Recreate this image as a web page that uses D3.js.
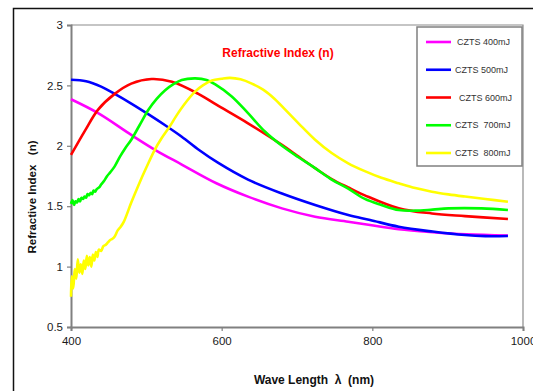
<!DOCTYPE html>
<html>
<head>
<meta charset="utf-8">
<script src="https://cdn.jsdelivr.net/npm/d3@7"></script>
<style>
  body { margin: 0; background: #fff; }
  text { font-family: "Liberation Sans", Arial, sans-serif; }
</style>
</head>
<body>
<div id="chart"></div>
<script>

// wavelength (nm), refractive index n
var czts400 = [[400,2.385],[436,2.27],[480,2.09],[512,1.965],[547,1.845],[593,1.69],[635,1.579],[680,1.482],
    [724,1.413],[768,1.372],[797,1.344],[835,1.309],[880,1.285],[925,1.268],[980,1.258]];

var czts500 = [[400,2.547],[420,2.535],[440,2.49],[458,2.43],[480,2.35],[503,2.26],[525,2.17],[547,2.075],
    [570,1.965],[595,1.86],[635,1.72],[680,1.605],[724,1.51],[768,1.427],[797,1.386],[835,1.33],[880,1.29],
    [923,1.261],[950,1.252],[980,1.253]];

var czts600 = [[400,1.924],[419,2.13],[436,2.30],[458,2.43],[480,2.515],[507,2.553],[534,2.53],[569,2.43],
    [593,2.34],[635,2.186],[680,2.007],[702,1.91],[724,1.815],[746,1.725],[768,1.655],[790,1.59],[835,1.482],
    [879,1.44],[923,1.418],[980,1.394]];

var czts700 = [[400,1.52],[402,1.55],[404,1.51],[406,1.54],[408,1.53],[410,1.56],[412,1.54],[414,1.57],
    [416,1.56],[418,1.58],[420,1.57],[422,1.60],[424,1.59],[426,1.61],[428,1.60],[430,1.63],[432,1.62],
    [434,1.64],[436,1.65],[438,1.66],[440,1.68],[444,1.71],[448,1.75],[452,1.78],[458,1.83],[465,1.91],
    [472,1.98],[480,2.05],[491,2.17],[503,2.30],[514,2.39],[525,2.46],[536,2.51],[547,2.545],[565,2.558],
    [580,2.545],[591,2.51],[613,2.41],[635,2.27],[657,2.12],[680,2.00],[702,1.905],[724,1.815],[746,1.72],
    [768,1.645],[790,1.56],[812,1.51],[835,1.468],[857,1.463],[880,1.472],[901,1.482],[945,1.482],[980,1.468]];

var czts800 = [[400,0.75],[401,0.92],[403,0.82],[405,0.98],[407,0.90],[409,1.06],[411,0.95],[413,1.02],
    [415,0.94],[417,1.05],[419,0.98],[421,1.09],[423,1.01],[425,1.08],[427,1.00],[429,1.10],[431,1.05],
    [433,1.12],[435,1.08],[437,1.14],[440,1.13],[443,1.17],[446,1.18],[449,1.20],[452,1.22],[455,1.23],
    [458,1.25],[462,1.30],[466,1.33],[470,1.37],[480,1.53],[490,1.68],[500,1.82],[511,1.965],[520,2.06],
    [531,2.16],[540,2.25],[550,2.34],[565,2.45],[575,2.50],[587,2.54],[600,2.555],[611,2.562],[625,2.55],
    [640,2.515],[655,2.465],[670,2.39],[685,2.295],[702,2.186],[724,2.05],[746,1.94],[768,1.855],[790,1.79],
    [812,1.735],[835,1.69],[857,1.65],[879,1.62],[901,1.598],[923,1.58],[950,1.56],[980,1.537]];

var seriesNames = ["CZTS 400mJ", "CZTS 500mJ", "CZTS 600mJ", "CZTS\u00a0\u00a0700mJ", "CZTS\u00a0\u00a0800mJ"];
var seriesColors = ["#ff00ff", "#0000ff", "#ff0000", "#00ff00", "#ffff00"];
var seriesData = [czts400, czts500, czts600, czts700, czts800];
var legendOffsets = [2, 0, 4, 0, 0];

var xTicks = [400, 600, 800, 1000];
var yTicks = [0.5, 1, 1.5, 2, 2.5, 3];

var w = 533, h = 391;
var margin = {top: 25, right: 10, bottom: 64, left: 71};

var svg = d3.select("#chart").append("svg")
    .attr("width", w)
    .attr("height", h);

// outer frame (runs off the page right and bottom)
svg.append("path")
    .attr("d", "M13.5," + (h + 5) + "V8.5H" + (w + 5))
    .attr("fill", "none")
    .attr("stroke", "#111")
    .attr("stroke-width", 1.5);

var x = d3.scaleLinear().domain([400, 1000]).range([margin.left, 523]);
var y = d3.scaleLinear().domain([0.5, 3]).range([327, margin.top]);

// plot frame top/right
svg.append("path")
    .attr("d", "M" + x(400) + "," + y(3) + "H" + x(1000) + "V" + y(0.5))
    .attr("fill", "none")
    .attr("stroke", "#8c8c8c")
    .attr("stroke-width", 1.2);

var gx = svg.append("g")
    .attr("transform", "translate(0," + y(0.5) + ")")
    .call(d3.axisBottom(x).tickValues(xTicks).tickSize(4).tickPadding(6).tickFormat(d3.format("d")));

var gy = svg.append("g")
    .attr("transform", "translate(" + x(400) + ",0)")
    .call(d3.axisLeft(y).tickValues(yTicks).tickSize(4).tickPadding(4).tickFormat(function (d) { return String(d); }));

[gx, gy].forEach(function (g) {
    g.select(".domain").attr("stroke", "#808080").attr("stroke-width", 2);
    g.selectAll(".tick line").attr("stroke", "#808080").attr("stroke-width", 1.2);
    g.selectAll(".tick text")
        .attr("fill", "#1a1a1a")
        .style("font-size", "11.5px")
        .style("font-family", "'Liberation Sans', Arial, sans-serif");
});

// curves
var line = d3.line()
    .x(function (d) { return x(d[0]); })
    .y(function (d) { return y(d[1]); })
    .curve(d3.curveCatmullRom.alpha(0.5));

svg.selectAll("path.series")
    .data(seriesData)
    .enter().append("path")
    .attr("class", "series")
    .attr("d", line)
    .attr("fill", "none")
    .attr("stroke", function (d, i) { return seriesColors[i]; })
    .attr("stroke-width", 2.6)
    .attr("stroke-linejoin", "round");

// title inside plot
svg.append("text")
    .attr("x", 278)
    .attr("y", 57)
    .attr("text-anchor", "middle")
    .attr("fill", "#ff0000")
    .style("font-weight", "bold")
    .style("font-size", "12px")
    .text("Refractive Index (n)");

// legend
var legend = svg.append("g");
legend.append("rect")
    .attr("x", 417)
    .attr("y", 27)
    .attr("width", 105)
    .attr("height", 139)
    .attr("fill", "#fff")
    .attr("stroke", "#808080")
    .attr("stroke-width", 1.5);

var legendY = d3.scalePoint().domain(d3.range(seriesNames.length)).range([42, 153]);

seriesNames.forEach(function (name, i) {
    legend.append("line")
        .attr("x1", 426).attr("x2", 451)
        .attr("y1", legendY(i)).attr("y2", legendY(i))
        .attr("stroke", seriesColors[i])
        .attr("stroke-width", 2.6);
    legend.append("text")
        .attr("x", 455 + legendOffsets[i])
        .attr("y", legendY(i) + 3.2)
        .attr("fill", "#333")
        .style("font-size", "9px")
        .text(name);
});

// axis titles
svg.append("text")
    .attr("transform", "translate(36,197) rotate(-90)")
    .attr("text-anchor", "middle")
    .attr("fill", "#111")
    .style("font-weight", "bold")
    .style("font-size", "11.5px")
    .text("Refractive Index\u00a0\u00a0\u00a0(n)");

svg.append("text")
    .attr("x", 314)
    .attr("y", 384)
    .attr("text-anchor", "middle")
    .attr("fill", "#111")
    .style("font-weight", "bold")
    .style("font-size", "12px")
    .text("Wave Length\u00a0\u00a0\u03bb\u00a0\u00a0(nm)");

</script>
</body>
</html>
